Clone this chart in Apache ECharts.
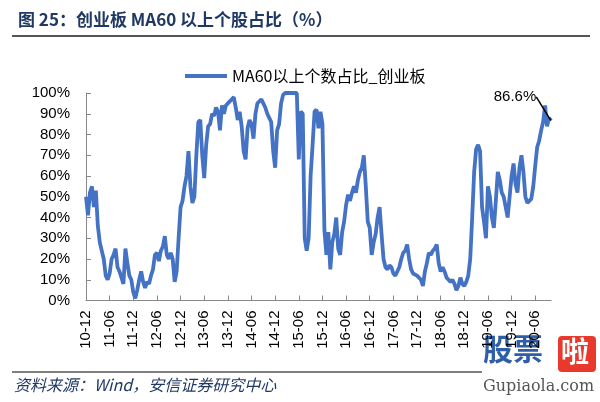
<!DOCTYPE html>
<html>
<head>
<meta charset="utf-8">
<script src="https://cdn.jsdelivr.net/npm/echarts@6/dist/echarts.min.js"></script>
<style>
html,body{margin:0;padding:0;background:#fff;}
#c{width:600px;height:402px;}
</style>
</head>
<body>
<div id="c"></div>
<script>
// Tick labels on the x axis (every 6 months)
var tickLabels = ['10-12','11-06','11-12','12-06','12-12','13-06','13-12','14-06','14-12','15-06',
                  '15-12','16-06','16-12','17-06','17-12','18-06','18-12','19-06','19-12','20-06'];
var yTickLabels = ['0%','10%','20%','30%','40%','50%','60%','70%','80%','90%','100%'];
var seriesName = 'MA60以上个数占比_创业板';
var titleText = '图 25：创业板 MA60 以上个股占比（%）';
var sourceText = '资料来源：Wind，安信证券研究中心';
var lastLabel = '86.6%';

// Semi-monthly observations, 2010-12 (first half) to 2020-09 (second half)
var ma60Share = [
 50,41,52,55,45,53,36,28,24,20, 12,10,13,20,22,25,16,14,11,8,
 25,18,12,10,4,1,5,10,14,9, 6,9,8,12,15,22,23,19,24,26,
 31,22,20,23,20,9,14,30,45,48, 55,60,72,55,47,50,70,86,87,70,
 59,75,84,85,90,89,93,91,82,94, 90,94,95,96,97,98,93,87,91,84,
 72,68,83,87,85,78,90,95,96,97, 95,93,90,88,86,72,64,82,85,95,
 99,100,100,100,100,100,100,100,68,91, 90,30,24,30,60,75,91,92,83,91,
 85,34,22,33,15,28,32,40,25,22, 33,38,46,51,48,52,55,52,58,62,
 64,70,55,38,35,22,28,32,40,45, 32,20,16,15,17,16,13,12,14,16,
 20,23,24,27,20,15,13,13,12,12, 10,7,14,18,23,22,24,25,27,18,
 14,16,14,11,10,9,10,8,5,7, 11,8,7,9,12,20,40,62,73,75,
 72,45,38,30,55,50,40,35,48,62, 58,52,50,45,40,50,60,66,56,52,
 64,70,62,50,47,47,49,55,65,74, 77,82,86,94,84,88,86.6
];

// Category dates (two per month)
var categories = [];
(function(){
  var y = 2010, m = 12;
  while (categories.length < ma60Share.length) {
    var mm = (m < 10 ? '0' : '') + m;
    categories.push(y + '-' + mm + '-01');
    if (categories.length < ma60Share.length) categories.push(y + '-' + mm + '-16');
    m++; if (m > 12) { m = 1; y++; }
  }
})();
var tickCats = tickLabels.map(function(t){ return '20' + t + '-01'; });
function isTick(idx, val){ return tickCats.indexOf(val) >= 0; }

var lastIdx = ma60Share.length - 1;
var seriesData = ma60Share.map(function(v, i){
  if (i === lastIdx) {
    return {value: v, symbol: 'circle', symbolSize: 1,
      itemStyle: {color: 'rgba(0,0,0,0)', borderWidth: 0},
      label: {show: true, position: 'top', formatter: lastLabel,
        fontSize: 15, color: '#000', fontFamily: 'Liberation Sans, Arial, sans-serif'}};
  }
  return v;
});

var chart = echarts.init(document.getElementById('c'), null, {renderer: 'canvas'});
chart.setOption({
  backgroundColor: '#fff',
  animation: false,
  title: {
    text: titleText, left: 13, top: 6,
    textStyle: {fontSize: 17, fontWeight: 'bold', color: '#1f3864',
      fontFamily: 'Noto Sans CJK SC, sans-serif'}
  },
  legend: {
    data: [seriesName], left: 180, top: 63,
    icon: 'rect', itemWidth: 42, itemHeight: 4,
    textStyle: {fontSize: 16, color: '#000', fontFamily: 'Noto Sans CJK SC, sans-serif'}
  },
  grid: {left: 86, right: 49, top: 93, bottom: 101.5, containLabel: false},
  xAxis: {
    type: 'category', data: categories, boundaryGap: false,
    axisLine: {lineStyle: {color: '#888', width: 1}},
    axisTick: {inside: true, length: 5, interval: isTick, lineStyle: {color: '#888'}},
    axisLabel: {interval: isTick, rotate: 90, margin: 10, fontSize: 15, color: '#000',
      fontFamily: 'Liberation Sans, Arial, sans-serif',
      formatter: function(v){ return v.slice(2, 7); }},
    splitLine: {show: false}
  },
  yAxis: {
    type: 'value', min: 0, max: 100, interval: 10,
    axisLine: {show: true, lineStyle: {color: '#888', width: 1}},
    axisTick: {show: true, inside: true, length: 5, lineStyle: {color: '#888'}},
    axisLabel: {margin: 16, fontSize: 15, color: '#000',
      fontFamily: 'Liberation Sans, Arial, sans-serif',
      formatter: function(v){ return yTickLabels[Math.round(v / 10)]; }},
    splitLine: {show: false}
  },
  series: [{
    name: seriesName, type: 'line', data: seriesData,
    symbol: 'none', showSymbol: true, showAllSymbol: true,
    lineStyle: {color: '#4472C4', width: 3.8},
    itemStyle: {color: '#4472C4'},
    labelLayout: function(params){
      if (params.dataIndex === lastIdx) return {dx: -36, dy: -11};
      return {};
    },
    labelLine: {show: true, lineStyle: {color: '#000', width: 1.5}}
  }],
  graphic: [
    {type: 'line', shape: {x1: 12, y1: 36, x2: 590, y2: 36}, style: {stroke: '#555', lineWidth: 2}},
    {type: 'line', shape: {x1: 12, y1: 372, x2: 482, y2: 372}, style: {stroke: '#555', lineWidth: 1.5}},
    {type: 'text', left: 14, top: 377, style: {text: sourceText,
      fill: '#1f3864', font: 'italic 16px "Noto Sans CJK SC", sans-serif'}},
    {type: 'text', left: 482, top: 333, style: {text: '股票', fill: '#2f5ea8',
      font: 'bold 30px "Noto Sans CJK SC", sans-serif', stroke: '#fff', lineWidth: 2}},
    {type: 'rect', shape: {x: 558, y: 336, width: 38, height: 36, r: 4}, style: {fill: '#e8392c'}},
    {type: 'text', left: 561, top: 337, style: {text: '啦', fill: '#fff',
      font: 'bold 28px "Noto Sans CJK SC", sans-serif'}},
    {type: 'text', left: 483, top: 379, style: {text: 'Gupiaola.com', fill: '#555',
      font: '16px "DejaVu Serif", serif'}}
  ]
});
</script>
</body>
</html>
